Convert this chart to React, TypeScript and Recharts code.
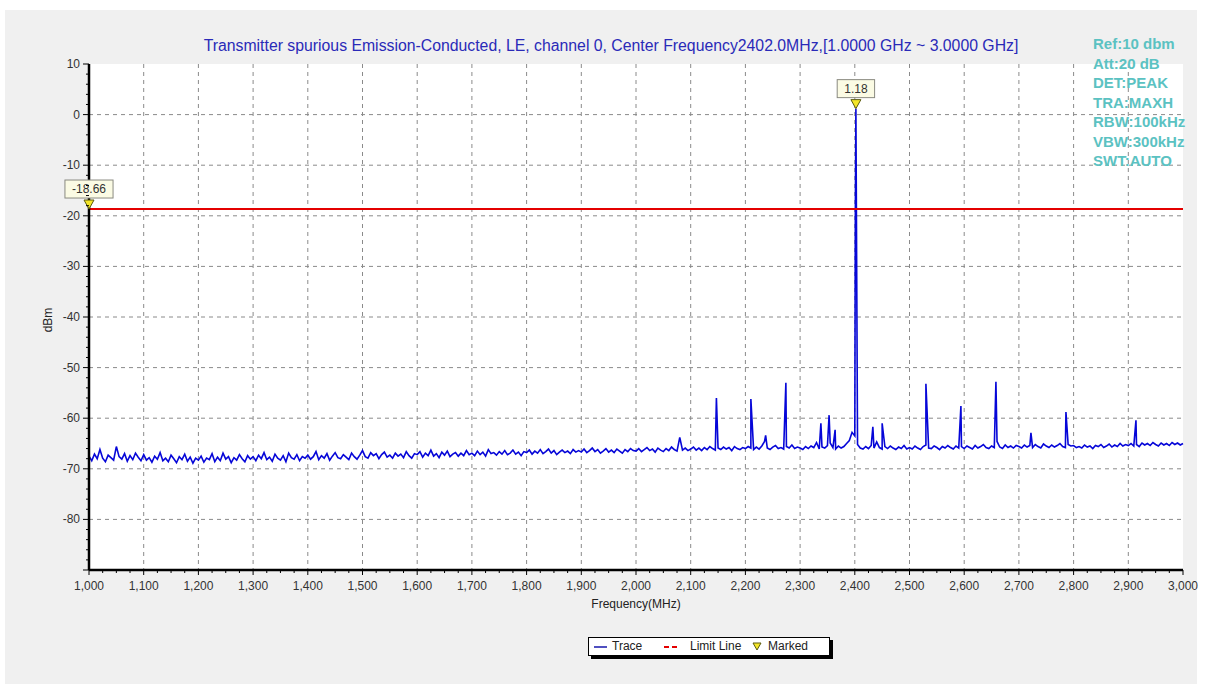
import React from "react";
import {
  ComposedChart, Line, XAxis, YAxis, CartesianGrid, ReferenceLine, ReferenceDot,
} from "recharts";

const FONT = '"Liberation Sans", Arial, sans-serif';

// noise floor, one reading every 5 MHz from 1000 to 3000 MHz (dBm)
const FLOOR_START = 1000;
const FLOOR_STEP = 5;
const floorLevels = [
  -67.5, -68.4, -67.1, -68.0, -66.2, -67.9, -68.6, -67.3, -67.8, -68.3, -65.6, -67.6, -68.1, -67.0, -68.5, -67.4, -68.2, -66.9, -67.7, -68.4,
  -67.2, -68.3, -67.8, -68.7, -67.5, -68.1, -66.8, -68.4, -67.9, -68.6, -67.3, -68.0, -68.8, -67.6, -68.2, -67.1, -68.5, -67.7, -68.9, -67.9,
  -68.3, -67.5, -68.7, -67.9, -68.2, -67.0, -68.6, -67.7, -68.4, -66.9, -68.1, -67.6, -68.8, -67.8, -68.3, -67.2, -68.0, -68.6, -67.4, -68.1,
  -67.6, -68.4, -67.3, -68.0, -66.8, -68.2, -67.7, -68.5, -67.1, -67.9, -68.3, -67.4, -68.6, -66.9, -67.8, -68.1, -67.2, -68.4, -67.6, -67.9,
  -67.3, -68.1, -67.6, -66.6, -68.2, -67.4, -67.9, -67.0, -68.3, -67.5, -66.8, -67.8, -68.0, -67.2, -67.7, -68.2, -66.9, -67.6, -68.1, -67.3,
  -66.4, -67.6, -67.9, -66.8, -67.4, -67.0, -68.0, -67.2, -66.7, -67.7, -67.3, -67.9, -66.9, -67.5, -67.1, -67.8, -66.6, -67.4, -67.9, -67.0,
  -67.2, -66.6, -67.7, -66.9, -67.4, -66.3, -67.5, -67.0, -67.8, -66.7, -67.3, -66.5, -67.6, -67.1, -66.8, -67.5, -66.9, -67.4, -66.4, -67.2,
  -66.9, -67.4, -66.5, -67.2, -66.7, -67.5, -66.2, -67.0, -66.8, -67.3, -66.6, -67.1, -66.4, -67.2, -66.9, -66.3, -67.1, -66.7, -67.4, -66.6,
  -66.8, -66.3, -67.1, -66.5, -66.9, -66.2, -67.0, -66.6, -66.1, -66.9, -66.4, -67.2, -66.7, -66.3, -66.8, -66.5, -67.0, -66.2, -66.7, -66.4,
  -66.7, -66.1, -66.8, -66.4, -65.9, -66.6, -66.2, -66.9, -66.5, -66.0, -66.7, -66.3, -66.8, -66.1, -66.5, -66.9, -66.2, -66.6, -66.0, -66.4,
  -66.5, -66.0, -66.6, -66.2, -65.8, -66.4, -66.1, -66.7, -65.9, -66.3, -66.6, -66.0, -66.4, -65.7, -66.2, -66.5, -63.8, -66.3, -65.9, -66.4,
  -66.1, -65.7, -66.3, -65.9, -66.4, -65.8, -66.2, -65.6, -66.0, -66.3, -65.9, -66.2, -65.7, -66.1, -65.8, -66.4, -65.6, -66.0, -66.2, -65.8,
  -66.0, -65.6, -65.9, -66.2, -65.7, -66.1, -65.5, -64.6, -65.9, -66.2, -65.7, -65.4, -66.0, -65.8, -66.1, -65.6, -65.9, -65.3, -66.0, -65.7,
  -65.9, -66.2, -65.6, -66.0, -65.5, -65.8, -64.8, -66.1, -65.7, -65.9, -65.4, -64.9, -65.8, -66.1, -65.5, -65.9, -65.6, -65.0, -64.4, -62.8,
  -63.5, -65.2, -65.9, -66.1, -65.6, -66.0, -65.4, -65.9, -64.7, -65.8, -66.1, -65.6, -66.0, -65.5, -65.9, -66.2, -65.7, -66.0, -65.4, -66.1,
  -65.8, -66.1, -65.5, -65.9, -66.2, -65.6, -65.3, -65.9, -66.0, -65.5, -65.8, -66.2, -65.6, -65.9, -65.4, -65.8, -66.1, -65.5, -65.9, -65.6,
  -66.0, -65.5, -65.8, -66.1, -65.4, -65.9, -65.6, -65.2, -65.8, -66.0, -65.5, -65.8, -64.6, -65.7, -66.0, -65.3, -65.8, -65.5, -65.9, -65.4,
  -65.6, -65.9, -65.3, -65.7, -65.4, -65.8, -65.2, -65.6, -65.9, -65.1, -65.5, -65.8, -65.3, -65.7, -65.4, -65.0, -65.6, -65.8, -65.2, -65.5,
  -65.4, -65.8, -65.6, -65.9, -65.3, -65.7, -65.5, -66.0, -65.4, -65.6, -65.2, -65.8, -65.5, -65.1, -65.7, -65.3, -65.6, -65.0, -65.5, -65.2,
  -65.4, -65.0, -65.5, -65.2, -65.6, -64.9, -65.3, -65.0, -65.4, -64.8, -65.2, -65.5, -64.9, -65.3, -65.0, -65.4, -64.8, -65.2, -64.9, -65.3,
  -65.0,
];

// narrow spurs and the carrier [MHz, dBm]
const spurs: [number, number][] = [
  [2147, -56.0], [2210, -56.2], [2237, -63.4], [2274, -53.0], [2338, -61.0], [2353, -59.4],
  [2364, -62.3], [2401, -19.0], [2402, 1.18], [2403, -20.5], [2433, -61.7], [2450, -61.0],
  [2530, -53.2], [2594, -57.6], [2658, -52.8], [2722, -62.9], [2786, -58.8], [2914, -60.4],
];

const markers = [
  { freq: 2402, level: 1.18 },
  { freq: 1000, level: -18.66 },
];

const LIMIT = -18.66;

const freqLabels = [1000, 1100, 1200, 1300, 1400, 1500, 1600, 1700, 1800, 1900, 2000,
  2100, 2200, 2300, 2400, 2500, 2600, 2700, 2800, 2900, 3000];
const levelLabels = [10, 0, -10, -20, -30, -40, -50, -60, -70, -80, -90];

const infoLines = ["Ref:10 dbm", "Att:20 dB", "DET:PEAK", "TRA:MAXH", "RBW:100kHz", "VBW:300kHz", "SWT:AUTO"];

const TITLE = "Transmitter spurious Emission-Conducted, LE, channel 0, Center Frequency2402.0MHz,[1.0000 GHz ~ 3.0000 GHz]";

const trace = [
  ...floorLevels.map((level, i) => ({ freq: FLOOR_START + i * FLOOR_STEP, level })),
  ...spurs.map(([freq, level]) => ({ freq, level })),
].sort((a, b) => a.freq - b.freq);

// minor ticks: 4 per 100 MHz, 5 per 10 dB
const freqTicks: number[] = [];
freqLabels.forEach((f, i) => {
  freqTicks.push(f);
  if (i < freqLabels.length - 1) for (let k = 1; k < 4; k++) freqTicks.push(f + k * 25);
});
const levelTicks: number[] = [];
levelLabels.forEach((v, i) => {
  levelTicks.push(v);
  if (i < levelLabels.length - 1) for (let k = 1; k < 5; k++) levelTicks.push(v - k * 2);
});

const gridX = freqLabels.slice(1, -1);
const gridY = levelLabels.slice(1, -1);

const TRACE_BLUE = "#0606d8";
const LIMIT_RED = "#e40000";

function FreqTick({ x, y, payload }: any) {
  const major = payload.value % 100 === 0;
  return (
    <g>
      <line x1={x} x2={x} y1={y} y2={y + (major ? 5 : 3)} stroke="#000" />
      {major && (
        <text x={x} y={y + 20} textAnchor="middle" fontSize={12} fill="#333" fontFamily={FONT}>
          {payload.value.toLocaleString("en-US")}
        </text>
      )}
    </g>
  );
}

function LevelTick({ x, y, payload }: any) {
  const v = payload.value;
  const major = v % 10 === 0;
  return (
    <g>
      <line x1={x - (major ? 6 : 3)} x2={x} y1={y} y2={y} stroke="#000" />
      {major && v > -90 && (
        <text x={x - 9} y={y + 4} textAnchor="end" fontSize={12} fill="#333" fontFamily={FONT}>
          {v}
        </text>
      )}
    </g>
  );
}

function textWidth(s: string) {
  let w = 0;
  for (const c of s) w += c === "." ? 3.3 : c === "-" ? 4 : 6.7;
  return w;
}

function Marker({ cx, cy, text }: any) {
  if (cx == null || cy == null) return null;
  const w = textWidth(text) + 14;
  const h = 18;
  const top = cy - 11 - h;
  return (
    <g>
      <rect x={cx - w / 2} y={top} width={w} height={h} fill="#fbfbe4" stroke="#8a8a80" strokeWidth={1} />
      <text x={cx} y={top + 13} textAnchor="middle" fontSize={12} fill="#333" fontFamily={FONT}>{text}</text>
      <path d={`M${cx - 5},${cy - 9} L${cx + 5},${cy - 9} L${cx},${cy} Z`} fill="#f4e628" stroke="#5a5a10" strokeWidth={1} />
    </g>
  );
}

function LegendBox() {
  return (
    <div style={{
      position: "absolute", left: 588, top: 637, width: 242, height: 19, boxSizing: "border-box",
      background: "#fff", border: "1px solid #000", boxShadow: "3px 3px 0 #000", fontFamily: FONT, fontSize: 12, color: "#222",
    }}>
      <svg width={240} height={17} style={{ position: "absolute", left: 0, top: 0 }}>
        <line x1={5} x2={18} y1={9} y2={9} stroke="#5050c0" strokeWidth={2} />
        <line x1={75} x2={91} y1={9} y2={9} stroke={LIMIT_RED} strokeWidth={2} strokeDasharray="5 3" />
        <path d="M164,5 L172,5 L168,12 Z" fill="#f4e628" stroke="#5a5a10" strokeWidth={1} />
      </svg>
      <span style={{ position: "absolute", left: 23, top: 1 }}>Trace</span>
      <span style={{ position: "absolute", left: 101, top: 1 }}>Limit Line</span>
      <span style={{ position: "absolute", left: 179, top: 1 }}>Marked</span>
    </div>
  );
}

export default function App() {
  return (
    <div style={{ position: "absolute", left: 0, top: 0, width: 1207, height: 684, background: "#fff", fontFamily: FONT }}>
      <div style={{ position: "absolute", left: 5, top: 10, width: 1192, height: 674, background: "#f0f0f0" }} />

      <div style={{ position: "absolute", left: 0, top: 0 }}>
        <ComposedChart width={1207} height={684} data={trace} margin={{ top: 64, right: 24, bottom: 84, left: 29 }}>
          <CartesianGrid
            fill="#fff"
            stroke="#8a8a8a"
            strokeDasharray="4 4"
            horizontalValues={gridY}
            verticalValues={gridX}
          />
          <XAxis
            dataKey="freq"
            type="number"
            domain={[1000, 3000]}
            ticks={freqTicks}
            interval={0}
            height={30}
            tickSize={0}
            tickMargin={0}
            tick={<FreqTick />}
            axisLine={{ stroke: "#000", strokeWidth: 2.5 }}
            tickLine={false}
          />
          <YAxis
            type="number"
            domain={[-90, 10]}
            ticks={levelTicks}
            interval={0}
            width={60}
            tickSize={0}
            tickMargin={0}
            tick={<LevelTick />}
            axisLine={{ stroke: "#000", strokeWidth: 2.5 }}
            tickLine={false}
          />
          <Line
            dataKey="level"
            type="linear"
            stroke={TRACE_BLUE}
            strokeWidth={1.6}
            dot={false}
            activeDot={false}
            isAnimationActive={false}
          />
          <ReferenceLine y={LIMIT} stroke={LIMIT_RED} strokeWidth={2} />
          {markers.map((m) => (
            <ReferenceDot
              key={m.freq}
              x={m.freq}
              y={m.level}
              r={0}
              shape={(p: any) => <Marker cx={p.cx} cy={p.cy} text={m.level.toFixed(2)} />}
            />
          ))}
        </ComposedChart>
      </div>

      <div style={{
        position: "absolute", left: 611, top: 37, transform: "translateX(-50%)", whiteSpace: "nowrap",
        fontSize: 15.8, color: "#2a2ab8",
      }}>
        {TITLE}
      </div>

      <div style={{ position: "absolute", left: 1093, top: 34, fontSize: 15, fontWeight: "bold", color: "#5bc2c2", lineHeight: "19.5px" }}>
        {infoLines.map((s) => <div key={s}>{s}</div>)}
      </div>

      <div style={{
        position: "absolute", left: 48, top: 320, transform: "translate(-50%, -50%) rotate(-90deg)",
        fontSize: 12, color: "#222", whiteSpace: "nowrap",
      }}>
        dBm
      </div>

      <div style={{
        position: "absolute", left: 636, top: 597, transform: "translateX(-50%)", fontSize: 12, color: "#222", whiteSpace: "nowrap",
      }}>
        Frequency(MHz)
      </div>

      <LegendBox />
    </div>
  );
}
